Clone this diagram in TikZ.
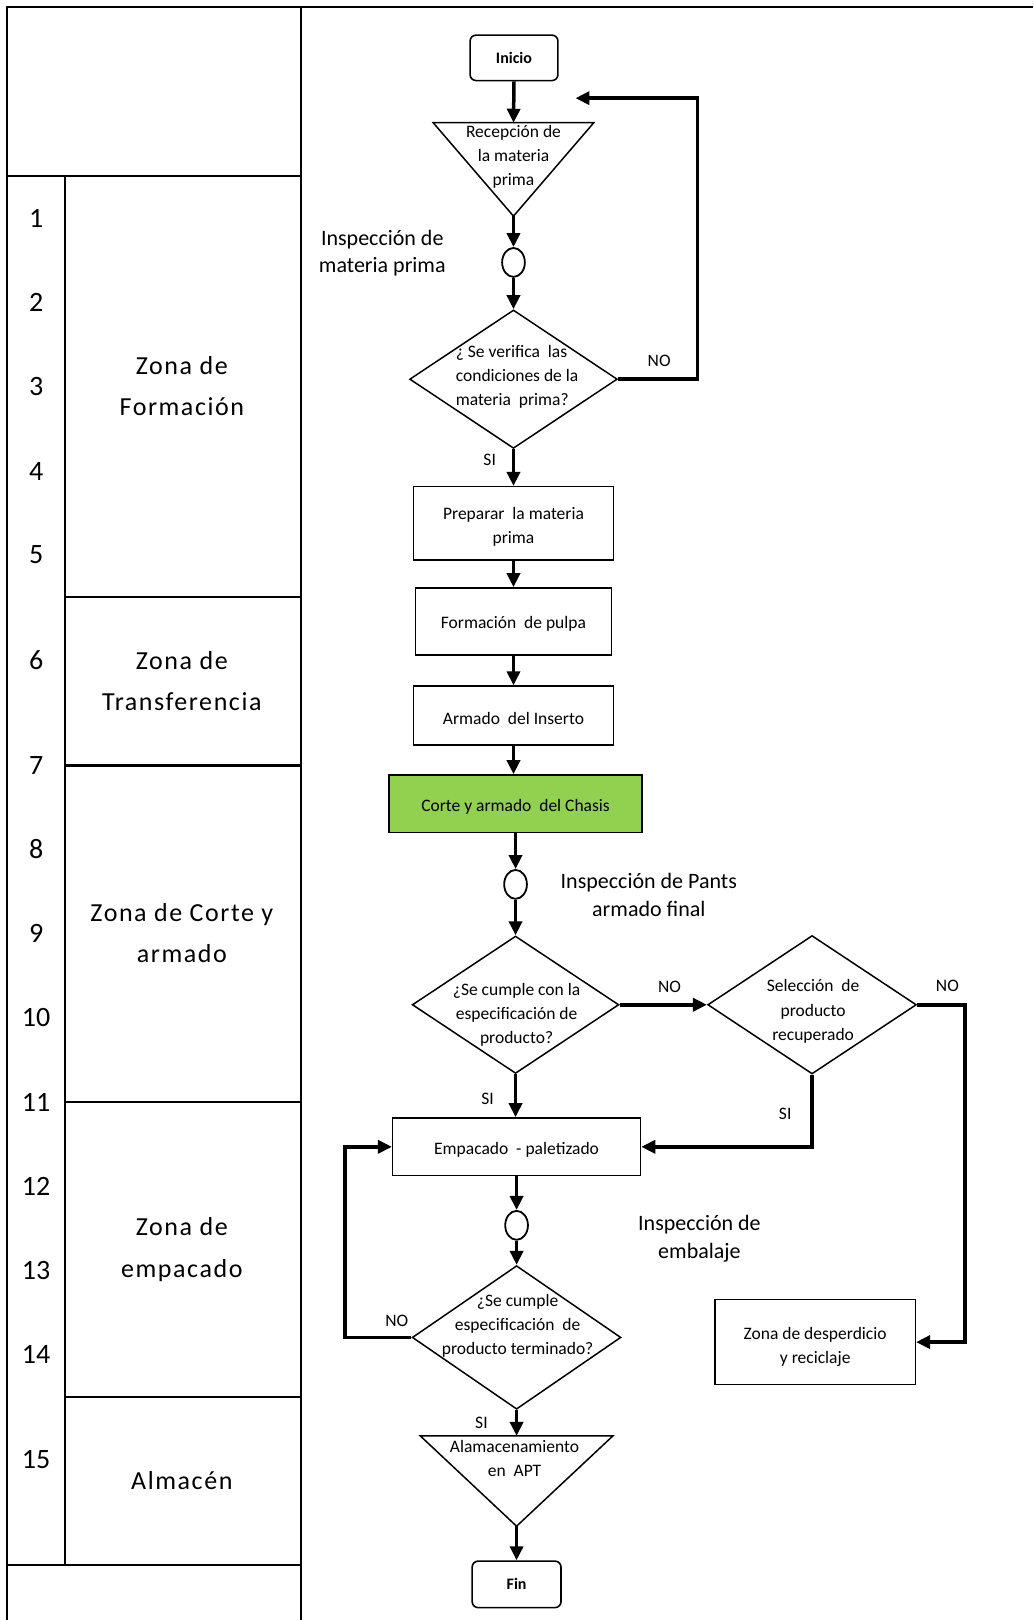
\documentclass[tikz,border=0pt]{standalone}
\usepackage{fontspec}
\setmainfont{Carlito}
\newfontfamily\zonefont[LetterSpace=6]{Carlito}
\usetikzlibrary{shapes.geometric,arrows.meta}
\definecolor{chasisgreen}{HTML}{92D050}
\newdimen\dpx \dpx=1.033pt
% invisible strut that lowers the text inside a box
\newcommand\lowerby[1]{\rule{0pt}{#1}}

\begin{document}
\begin{tikzpicture}[x=1.033pt, y=-1.033pt,
  txt/.style={inner sep=0pt, align=center, font=\fontsize{17.5}{24.2}\selectfont},
  proc/.style={txt, draw, line width=1.4pt},
  term/.style={draw, line width=1.6pt, rounded corners=6pt, inner sep=0pt,
               font=\fontsize{16}{20}\selectfont\bfseries},
  dec/.style={draw, diamond, line width=1.5pt, inner sep=0pt},
  insp/.style={draw, ellipse, line width=1.8pt, inner sep=0pt,
               minimum width=22*\dpx, minimum height=28*\dpx},
  tri/.style={inner sep=0pt},
  trishape/.style={line width=1.5pt},
  flow/.style={line width=3.5pt, -{Triangle[width=13pt,length=14pt]}},
  tbl/.style={line width=2.2pt},
  note/.style={inner sep=0pt, align=center, font=\fontsize{22}{27.5}\selectfont},
  zone/.style={inner sep=0pt, align=center, font=\zonefont\fontsize{26}{41.3}\selectfont},
  num/.style={inner sep=0pt, font=\fontsize{28}{30}\selectfont},
  ans/.style={inner sep=0pt, font=\fontsize{17.5}{20}\selectfont},
]
\useasboundingbox (0,0) rectangle (1000,1568);

% ---------- zone table on the left ----------
\draw[tbl] (7,1568) -- (7,7) -- (1000,7);
\draw[tbl] (291,7) -- (291,1568);
\draw[tbl] (7,170) -- (291,170);
\draw[tbl] (63,170) -- (63,1515);
\draw[tbl] (63,578) -- (291,578);
\draw[tbl] (63,741) -- (291,741);
\draw[tbl] (63,1067) -- (291,1067);
\draw[tbl] (63,1352) -- (291,1352);
\draw[tbl] (7,1515) -- (291,1515);

\foreach \n/\yy in {1/211,2/293,3/374,4/456,5/537,6/639,7/741,8/822,
                    9/903,10/985,11/1067,12/1148,13/1230,14/1311,15/1413}
  \node[num] (n\n) at (35,\yy) {\n};

\node[zone] (zform)  at (176,374)    {Zona de\\Formación};
\node[zone] (ztrans) at (176,659.5)  {Zona de\\Transferencia};
\node[zone] (zcorte) at (176,903)    {Zona de Corte y\\armado};
\node[zone] (zemp)   at (176,1209.5) {Zona de\\empacado};
\node[zone] (zalm)   at (176,1433)   {Almacén};

% ---------- process flow ----------
\node[term, minimum width=85*\dpx, minimum height=44*\dpx] (inicio) at (497.5,56) {Inicio};

\node[tri, minimum width=155*\dpx, minimum height=90*\dpx] (rec) at (497,164) {};
\draw[trishape] (rec.north west) -- (rec.north east) -- (rec.south) -- cycle;
\node[txt] (rectxt) at (497,152) {Recepción de\\la materia\\prima};

\node[insp] (c1) at (497,254) {};
\node[note] (lab1) at (370,245) {Inspección de\\materia prima};

\node[dec, minimum width=201*\dpx, minimum height=134*\dpx] (d1) at (497,367) {};
\node[txt, align=left, anchor=west] (d1txt) at (441,365)
  {¿ Se verifica\ \ las\\condiciones de la\\materia\ \ prima?};

\node[proc, minimum width=194*\dpx, minimum height=71*\dpx] (prep) at (497,506.5)
  {\lowerby{18.5pt}Preparar\ \ la materia\\prima};
\node[proc, minimum width=190*\dpx, minimum height=65*\dpx] (pulpa) at (497,601.5)
  {\lowerby{17pt}Formación\ \ de pulpa};
\node[proc, minimum width=194*\dpx, minimum height=57*\dpx] (inserto) at (497,692.5)
  {\lowerby{19pt}Armado\ \ del Inserto};
\node[proc, fill=chasisgreen, minimum width=245*\dpx, minimum height=56*\dpx] (chasis) at (499,778)
  {\lowerby{19pt}Corte y armado\ \ del\ Chasis};

\node[insp] (c2) at (499,856) {};
\node[note] (lab2) at (628,866) {Inspección de Pants\\armado final};

\node[dec, minimum width=200*\dpx, minimum height=133*\dpx] (d2) at (499,972.5) {};
\node[txt] (d2txt) at (500,982) {¿Se cumple con la\\especificación de\\producto?};

\node[dec, minimum width=202*\dpx, minimum height=134*\dpx] (d3) at (786,972.5) {};
\node[txt] (d3txt) at (787,979) {Selección\ \ de\\producto\\recuperado};

\node[proc, minimum width=240*\dpx, minimum height=56*\dpx] (empaq) at (500,1110)
  {\lowerby{19pt}Empacado\ \ - paletizado};

\node[insp] (c3) at (500,1186) {};
\node[note] (lab3) at (677,1199) {Inspección de\\embalaje};

\node[dec, minimum width=202*\dpx, minimum height=139*\dpx] (d4) at (500,1294.5) {};
\node[txt] (d4txt) at (501,1283) {¿Se cumple\\especificación\ \ de\\producto terminado?};

\node[proc, minimum width=194*\dpx, minimum height=82*\dpx] (desp) at (789,1299)
  {\lowerby{21.5pt}Zona de desperdicio\\y reciclaje};

\node[tri, minimum width=186*\dpx, minimum height=87*\dpx] (alm) at (500,1433.5) {};
\draw[trishape] (alm.north west) -- (alm.north east) -- (alm.south) -- cycle;
\node[txt] (almtxt) at (498,1412) {Alamacenamiento\\en\ \ APT};

\node[term, minimum width=86*\dpx, minimum height=45*\dpx] (fin) at (500,1533.5) {Fin};

% ---------- connectors ----------
\coordinate (k1) at (675,95);
\coordinate (ret1) at (557,95);
\coordinate (k2) at (934,1100);
\coordinate (k3) at (334,1200);

\draw[flow] (inicio.south) -- (rec.north);
\draw[flow] (rec.south) -- (c1.north);
\draw[flow] (c1.south) -- (d1.north);
\draw[flow] (d1.east) -| (k1) -- (ret1);
\draw[flow] (d1.south) -- (prep.north);
\draw[flow] (prep.south) -- (pulpa.north);
\draw[flow] (pulpa.south) -- (inserto.north);
\draw[flow] (inserto.south) -- (inserto.south |- chasis.north);
\draw[flow] (chasis.south) -- (c2.north);
\draw[flow] (c2.south) -- (d2.north);
\draw[flow] (d2.east) -- (d3.west);
\draw[flow] (d2.south) -- (d2.south |- empaq.north);
\draw[flow] (d3.south) |- (empaq.east);
\draw[flow] (d3.east) -| (k2) |- (desp.east);
\draw[flow] (empaq.south) -- (c3.north);
\draw[flow] (c3.south) -- (d4.north);
\draw[flow] (d4.west) -| (k3) |- (empaq.west);
\draw[flow] (d4.south) -- (alm.north);
\draw[flow] (alm.south) -- (fin.north);

% ---------- answer labels ----------
\node[ans] (no1) at (638,349)  {NO};
\node[ans] (si1) at (474,445)  {SI};
\node[ans] (no2) at (648,955)  {NO};
\node[ans] (no3) at (917,954)  {NO};
\node[ans] (si2) at (472,1064) {SI};
\node[ans] (si3) at (760,1078) {SI};
\node[ans] (no4) at (384,1278) {NO};
\node[ans] (si4) at (466,1377) {SI};
\end{tikzpicture}
\end{document}
